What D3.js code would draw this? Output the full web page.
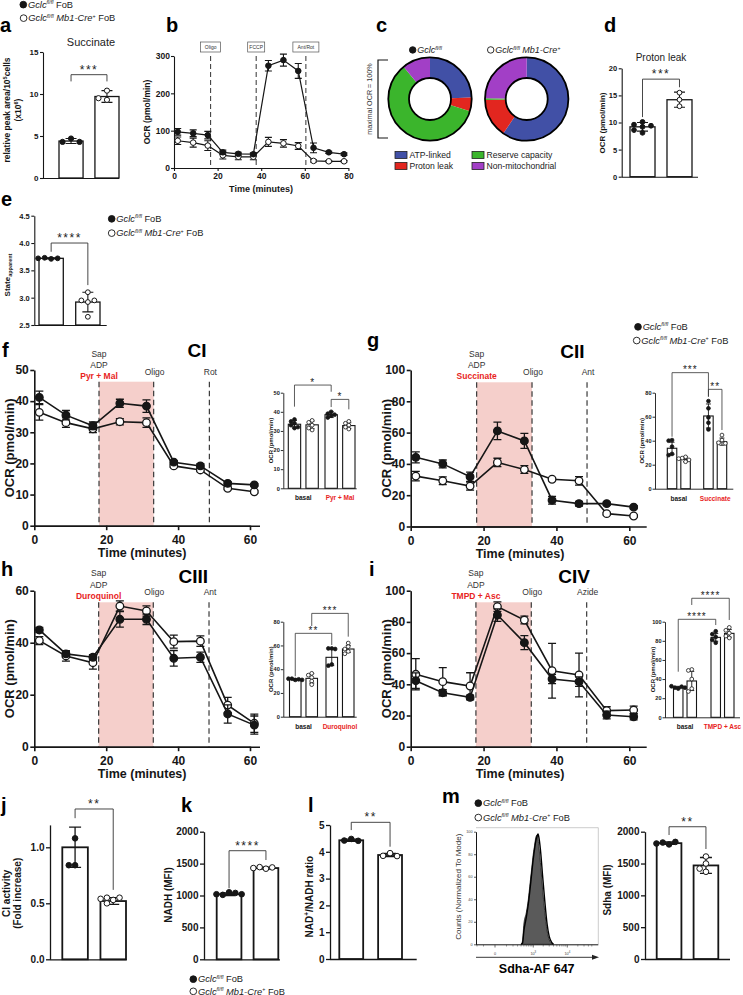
<!DOCTYPE html>
<html><head><meta charset="utf-8">
<script src="https://cdn.jsdelivr.net/npm/d3@7/dist/d3.min.js"></script>
<style>
html,body{margin:0;padding:0;background:#fff;}
svg{display:block;}
text{font-family:"Liberation Sans",Arial,Helvetica,sans-serif;}
</style></head><body>
<svg id="fig" width="743" height="995" viewBox="0 0 743 995"></svg>
<script>
// ======================= DATA =======================
// a – succinate
const aMeans = [4.4, 9.7];
const aSD = [0.3, 0.7];
const aCtrlPts = [4.7, 4.3, 4.3];
const aKoPts = [10.4, 9.3, 9.5];
const aTicks = [0, 5, 10, 15];
// b – mito stress test
const bTime = [1.7, 8.8, 15.5, 22.4, 29.5, 36.4, 43.3, 50.2, 57.0, 64.0, 71.0, 78.0];
const bCtrl = [97, 93, 88, 42, 38, 37, 274, 289, 260, 54, 42, 37];
const bCtrlSD = [9, 9, 10, 6, 4, 4, 14, 16, 20, 13, 3, 3];
const bKo = [73, 68, 60, 34, 30, 30, 70, 66, 59, 19, 18, 18];
const bKoSD = [10, 12, 13, 10, 8, 8, 12, 10, 9, 3, 2, 2];
const bInjTime = [16.8, 37.7, 60.5];
const bInjLabels = ["Oligo", "FCCP", "Ant/Rot"];
const bTicksX = [0, 20, 40, 60, 80];
const bTicksY = [0, 100, 200, 300];
// c – OCR partition (% of maximal OCR)
const cCategories = ["ATP-linked", "Proton leak", "Reserve capacity", "Non-mitochondrial"];
const cColors = ["#4150a6", "#e2261f", "#3bb52c", "#a23fc6"];
const cCtrl = [24.4, 5.3, 59.4, 10.9];
const cKo = [59.5, 15.1, 0.7, 24.7];
// d – proton leak
const dMeans = [9.2, 14.2];
const dSD = [0.8, 1.4];
const dCtrlPts = [10.1, 9.2, 9.6, 8.1, 9.4, 8.6];
const dKoPts = [15.5, 14.2, 13.0];
const dTicks = [0, 5, 10, 15, 20];
// e – State apparent
const eMeans = [3.72, 2.92];
const eSD = [0.01, 0.18];
const eCtrlPts = [3.71, 3.73, 3.72, 3.72];
const eKoPts = [3.10, 2.92, 2.95, 2.95, 2.65];
const eTicks = [2.5, 3.0, 3.5, 4.0, 4.5];
// f–i permeabilised-cell OCR
const ocrTime = [1.4, 8.8, 16.3, 23.8, 31.2, 38.8, 46.2, 53.8, 61.2];
const ocrTicksX = [0, 20, 40, 60];
const insetGroups = ["basal"];
// CI
const fCtrl = [41.2, 35.5, 32.1, 39.3, 38.4, 20.4, 19.2, 13.6, 13.1];
const fCtrlSD = [2.0, 1.5, 1.2, 1.3, 2.0, 0.5, 0.7, 0.5, 0.4];
const fKo = [36.4, 33.1, 31.1, 33.4, 33.1, 19.2, 17.9, 12.0, 10.9];
const fKoSD = [2.5, 1.5, 1.2, 1.0, 1.5, 0.5, 0.5, 0.4, 0.4];
const fInj = [18.0, 33.2, 48.7];
const fTicksY = [0, 10, 20, 30, 40, 50];
const fInsetMeans = [33.5, 33.2, 38.5, 32.8];
const fInsetSD = [2.0, 2.0, 1.5, 1.5];
const fInsetPts = [[36, 35, 34, 33, 31.5, 32], [35.5, 34.5, 33, 31.5, 30.5], [40, 39, 38, 37, 38.5], [35, 34, 33, 31, 32]];
const fInsetTicks = [0, 10, 20, 30, 40, 50];
// CII
const gCtrl = [44.2, 40.0, 31.8, 61.1, 54.7, 16.8, 14.6, 14.6, 12.4];
const gCtrlSD = [3.5, 2.5, 3.0, 5.6, 4.8, 2.5, 1.5, 1.0, 1.0];
const gKo = [32.2, 29.2, 25.8, 40.9, 36.4, 30.2, 29.2, 8.2, 6.7];
const gKoSD = [3.0, 2.5, 2.5, 2.7, 2.5, 1.0, 2.7, 0.8, 0.8];
const gInj = [18.1, 33.3, 48.4];
const gTicksY = [0, 20, 40, 60, 80, 100];
const gInsetMeans = [33.7, 24.5, 60.6, 39.2];
const gInsetSD = [5.0, 2.0, 10.0, 3.0];
const gInsetPts = [[40.5, 40, 35, 29, 28], [26.5, 25.5, 24, 22.5, 25], [73, 67, 59.4, 55, 49.4], [44.7, 40.5, 38.3, 37.8]];
const gInsetTicks = [0, 20, 40, 60, 80];
// CIII
const hCtrl = [44.9, 35.7, 34.4, 49.0, 49.0, 34.0, 34.4, 12.6, 8.3];
const hCtrlSD = [1.0, 1.0, 1.0, 3.0, 2.0, 3.0, 2.0, 3.5, 3.5];
const hKo = [40.8, 34.9, 32.3, 54.1, 52.2, 40.4, 40.6, 16.0, 9.0];
const hKoSD = [1.5, 2.0, 2.5, 2.0, 2.0, 2.5, 2.0, 3.0, 3.5];
const hInj = [17.9, 33.1, 48.6];
const hTicksY = [0, 20, 40, 60];
const hInsetMeans = [31.4, 32.3, 50.0, 57.0];
const hInsetSD = [0.7, 4.0, 7.0, 3.0];
const hInsetPts = [[31, 32, 31.5, 32, 31], [36.5, 35, 33, 30, 27], [57.5, 57.5, 57, 44, 43], [62, 59, 57, 55, 53]];
const hInsetTicks = [0, 20, 40, 60, 80];
// CIV
const iCtrl = [42.3, 34.6, 31.6, 84.4, 66.7, 43.4, 41.7, 20.3, 19.2];
const iCtrlSD = [5.0, 2.0, 1.5, 4.0, 4.5, 3.0, 3.0, 2.5, 2.0];
const iKo = [46.4, 41.7, 38.9, 89.8, 81.2, 48.7, 46.0, 23.1, 23.5];
const iKoSD = [10.0, 9.0, 8.5, 3.0, 2.5, 17.5, 14.0, 2.5, 2.5];
const iInj = [17.9, 33.1, 48.3];
const iTicksY = [0, 20, 40, 60, 80, 100];
const iInsetMeans = [31.4, 38.0, 83.6, 87.8];
const iInsetSD = [1.0, 10.0, 4.0, 4.0];
const iInsetPts = [[30, 31, 32, 32.5, 31], [50, 49, 40, 30, 27], [90, 87, 84, 81, 78], [94, 91, 88, 85, 83]];
const iInsetTicks = [0, 20, 40, 60, 80, 100];
// j – CI activity
const jMeans = [1.0, 0.52];
const jSD = [0.18, 0.03];
const jCtrlPts = [1.08, 0.84, 0.84];
const jKoPts = [0.53, 0.55, 0.55, 0.54, 0.50];
const jTicks = [0.0, 0.5, 1.0];
// k – NADH
const kMeans = [1020, 1430];
const kSD = [20, 15];
const kCtrlPts = [1050, 1010, 1040, 1020, 1020];
const kKoPts = [1420, 1445, 1440, 1430];
const kTicks = [0, 500, 1000, 1500, 2000];
// l – NAD+/NADH
const lMeans = [4.43, 3.88];
const lSD = [0.04, 0.06];
const lCtrlPts = [4.48, 4.42, 4.41];
const lKoPts = [3.95, 3.85, 3.84];
const lTicks = [0, 1, 2, 3, 4, 5];
// m – Sdha
const mHistBins = [400, 450, 500, 600, 700, 800, 900, 1000, 1100, 1200, 1300, 1400, 1500, 1700, 1900, 2200, 2600, 3000, 3500, 4000];
const mHistCtrl = [0, 3, 18, 28, 40, 55, 68, 80, 88, 95, 97, 93, 85, 68, 50, 30, 12, 4, 1, 0];
const mHistKo = [0, 1, 12, 24, 36, 50, 64, 76, 85, 92, 96, 98, 94, 80, 62, 40, 18, 7, 2, 0];
const mHistTicksY = [0, 20, 40, 60, 80, 100];
const mMeans = [1820, 1470];
const mSD = [20, 125];
const mCtrlPts = [1800, 1830, 1840, 1815];
const mKoPts = [1610, 1500, 1370, 1420];
const mTicks = [0, 500, 1000, 1500, 2000];

// ======================= DRAWING =======================
const svg = d3.select("#fig");
const INK = "#161616";
const FONT = '"Liberation Sans", Arial, Helvetica, sans-serif';
const PINK = "#f5cfcb";
const RED = "#e8241d";

function txt(g, x, y, s, o = {}) {
  const el = g.append("text").attr("x", x).attr("y", y).text(s)
    .attr("font-size", o.size || 10)
    .attr("font-weight", o.bold ? "bold" : "normal")
    .attr("text-anchor", o.anchor || "start")
    .attr("fill", o.fill || INK);
  if (o.italic) el.attr("font-style", "italic");
  if (o.rot) el.attr("transform", `rotate(-90,${x},${y})`);
  if (o.ls) el.attr("letter-spacing", o.ls);
  return el;
}
function letter(x, y, s) { txt(svg, x, y, s, {size: 20, bold: true, fill: "#000"}); }

function geno(g, x, y, ko, o = {}) {
  const s = o.size || 9.3;
  if (o.circle !== false) {
    g.append("circle").attr("cx", x).attr("cy", y - s * 0.34).attr("r", s * 0.36)
      .attr("fill", ko ? "#fff" : INK).attr("stroke", INK).attr("stroke-width", 0.9);
  }
  const t = g.append("text").attr("x", x + s * 0.5).attr("y", y).attr("font-size", s).attr("fill", "#222");
  t.append("tspan").attr("font-style", "italic").text("Gclc");
  t.append("tspan").attr("font-style", "italic").attr("font-size", s * 0.58).attr("dy", -s * 0.38).text("fl/fl");
  if (ko) {
    t.append("tspan").attr("font-style", "italic").attr("dy", s * 0.38).text(" Mb1-Cre");
    t.append("tspan").attr("font-size", s * 0.58).attr("dy", -s * 0.38).text("+");
    if (o.fob !== false) t.append("tspan").attr("dy", s * 0.38).text(" FoB");
  } else if (o.fob !== false) {
    t.append("tspan").attr("dy", s * 0.38).text(" FoB");
  }
}

function leftAxis(g, x, y, ticks, fmt, o) {
  const a = g.append("g").attr("transform", `translate(${x},0)`)
    .call(d3.axisLeft(y).tickValues(ticks).tickFormat(fmt).tickSize(o.tl).tickSizeOuter(0).tickPadding(o.pad ?? 1.5));
  a.attr("font-family", FONT).attr("font-size", o.fs);
  a.select(".domain").attr("stroke", INK).attr("stroke-width", o.sw);
  a.selectAll(".tick line").attr("stroke", INK).attr("stroke-width", o.sw);
  a.selectAll(".tick text").attr("fill", o.fill || INK).attr("font-weight", o.bold === false ? "normal" : "bold").attr("font-size", o.fs);
  return a;
}
function bottomAxis(g, yPos, x, ticks, fmt, o) {
  const a = g.append("g").attr("transform", `translate(0,${yPos})`)
    .call(d3.axisBottom(x).tickValues(ticks).tickFormat(fmt).tickSize(o.tl).tickSizeOuter(0).tickPadding(o.pad ?? 2));
  a.attr("font-family", FONT).attr("font-size", o.fs);
  a.select(".domain").attr("stroke", INK).attr("stroke-width", o.sw);
  a.selectAll(".tick line").attr("stroke", INK).attr("stroke-width", o.sw);
  a.selectAll(".tick text").attr("fill", INK).attr("font-weight", "bold").attr("font-size", o.fs);
  return a;
}

function dodge(vals, y, r, step) {
  const placed = [];
  const cands = [0];
  for (let i = 1; i < 8; i++) cands.push(-i * step, i * step);
  return vals.map(v => {
    const py = y(v);
    let off = 0;
    for (const c of cands) {
      if (placed.every(p => Math.abs(p.x - c) >= step * 0.9 || Math.abs(p.y - py) >= 2 * r * 0.9)) { off = c; break; }
    }
    placed.push({x: off, y: py});
    return off;
  });
}

function errBar(g, cx, y, m, e, cw, sw) {
  g.append("path")
    .attr("d", `M${cx},${y(m - e)}V${y(m + e)}M${cx - cw},${y(m + e)}H${cx + cw}M${cx - cw},${y(m - e)}H${cx + cw}`)
    .attr("stroke", INK).attr("stroke-width", sw).attr("fill", "none");
}

function bracket(g, xl, xr, y, b) {
  g.append("path").attr("d", `M${xl},${y(b.l)}V${y(b.top)}H${xr}V${y(b.r)}`)
    .attr("fill", "none").attr("stroke", "#333").attr("stroke-width", b.sw || 0.9);
  txt(g, (xl + xr) / 2, y(b.top) + (b.dy ?? -1), b.label, {size: b.fs || 12, anchor: "middle", ls: b.ls ?? 1.5, fill: "#222"});
}

function barChart(c) {
  const g = svg.append("g");
  const y = d3.scaleLinear().domain(c.domain).range([c.y0, c.y1]);
  const x = d3.scaleBand().domain(d3.range(c.means.length)).range(c.band).paddingInner(c.pad);
  const base = y(c.domain[0]);
  leftAxis(g, c.ax, y, c.ticks, c.fmt, {tl: c.tl, fs: c.fs, sw: c.sw, pad: c.tpad});
  g.append("line").attr("x1", c.ax).attr("x2", c.axR).attr("y1", base + 0.5).attr("y2", base + 0.5)
    .attr("stroke", INK).attr("stroke-width", c.sw);
  c.means.forEach((m, i) => {
    const cx = x(i) + x.bandwidth() / 2;
    g.append("rect").attr("x", x(i)).attr("y", y(m)).attr("width", x.bandwidth()).attr("height", base - y(m))
      .attr("fill", "#fff").attr("stroke", INK).attr("stroke-width", c.bsw);
    errBar(g, cx, y, m, c.sds[i], c.cw, c.esw);
    const pts = c.pts[i];
    const offs = dodge(pts, y, c.r, c.step);
    pts.forEach((v, k) => g.append("circle").attr("cx", cx + offs[k]).attr("cy", y(v)).attr("r", c.r)
      .attr("fill", i === 0 ? INK : "#fff").attr("stroke", INK).attr("stroke-width", c.psw || 1));
  });
  if (c.br) bracket(g, x(0) + x.bandwidth() / 2, x(1) + x.bandwidth() / 2, y, c.br);
  return {g, x, y};
}

function series(g, x, y, ts, vals, sds, filled, o) {
  const line = d3.line().x((d, i) => x(ts[i])).y(d => y(d));
  g.append("path").datum(vals).attr("d", line).attr("fill", "none").attr("stroke", INK).attr("stroke-width", o.lw);
  vals.forEach((v, i) => errBar(g, x(ts[i]), y, v, sds[i], o.cw, o.ew));
  vals.forEach((v, i) => g.append("circle").attr("cx", x(ts[i])).attr("cy", y(v)).attr("r", o.r)
    .attr("fill", filled ? INK : "#fff").attr("stroke", INK).attr("stroke-width", o.psw));
}

function ocrChart(c) {
  const g = svg.append("g");
  const x = d3.scaleLinear().domain([0, 60]).range([c.ax, c.x60]);
  const y = d3.scaleLinear().domain(c.yDomain).range([c.y0, c.y1]);
  const top = c.y1 + c.shadeOff;
  g.append("rect").attr("x", x(c.inj[0])).attr("y", top).attr("width", x(c.inj[1]) - x(c.inj[0]))
    .attr("height", c.y0 - top).attr("fill", PINK);
  c.inj.forEach(tm => g.append("line").attr("x1", x(tm)).attr("x2", x(tm)).attr("y1", top).attr("y2", c.y0)
    .attr("stroke", "#3a3a3a").attr("stroke-width", 1.2).attr("stroke-dasharray", "5.5,3.5"));
  leftAxis(g, c.ax, y, c.yTicks, d3.format("d"), {tl: 4, fs: 12, sw: 1.6, pad: 1.5});
  g.append("line").attr("x1", c.ax).attr("x2", c.axR).attr("y1", c.y0 + 0.5).attr("y2", c.y0 + 0.5)
    .attr("stroke", INK).attr("stroke-width", 1.6);
  bottomAxis(g, c.y0, x, ocrTicksX, d3.format("d"), {tl: 4.5, fs: 12, sw: 1.6, pad: 5});
  series(g, x, y, ocrTime, c.ko, c.koSD, false, {r: 3.8, lw: 1.6, cw: 4, ew: 1.3, psw: 1.3});
  series(g, x, y, ocrTime, c.ctrl, c.ctrlSD, true, {r: 3.8, lw: 1.6, cw: 4, ew: 1.3, psw: 1.3});
  const lx = x(c.inj[0]);
  txt(g, lx, c.y1 + c.sapDy, "Sap", {size: 8.5, anchor: "middle", fill: "#333"});
  txt(g, lx, c.y1 - 2.5, "ADP", {size: 8.5, anchor: "middle", fill: "#333"});
  txt(g, lx, c.y1 + 8.5, c.stim, {size: 8.5, anchor: "middle", fill: RED, bold: true});
  txt(g, x(c.inj[1]) + 1, c.y1 + 4.5, "Oligo", {size: 8.5, anchor: "middle", fill: "#333"});
  txt(g, x(c.inj[2]) + 1, c.y1 + 4.5, c.last, {size: 8.5, anchor: "middle", fill: "#333"});
  txt(g, c.titleX, c.titleY, c.title, {size: 19, bold: true, anchor: "middle", fill: "#000"});
  txt(g, (c.ax + c.x60) / 2, c.y0 + 31, "Time (minutes)", {size: 12.5, bold: true, anchor: "middle"});
  txt(g, c.ax - 20, (c.y0 + c.y1) / 2, "OCR (pmol/min)", {size: 13, bold: true, anchor: "middle", rot: true});
}

function insetChart(c) {
  const g = svg.append("g");
  const y = d3.scaleLinear().domain(c.domain).range([c.y0, c.y1]);
  const gx = d3.scalePoint().domain(insetGroups.concat([c.stim])).range(c.centers);
  const ix = d3.scaleBand().domain([0, 1]).range([-c.half, c.half]).paddingInner(0.3);
  leftAxis(g, c.ax, y, c.ticks, d3.format("d"), {tl: 2.5, fs: 5.6, sw: 0.9, pad: 1});
  g.append("line").attr("x1", c.ax).attr("x2", c.axR).attr("y1", c.y0 + 0.5).attr("y2", c.y0 + 0.5)
    .attr("stroke", INK).attr("stroke-width", 0.9);
  const slots = [[insetGroups[0], 0], [insetGroups[0], 1], [c.stim, 0], [c.stim, 1]];
  const centers = slots.map(([grp, gi]) => gx(grp) + ix(gi) + ix.bandwidth() / 2);
  slots.forEach(([grp, gi], i) => {
    const x0 = gx(grp) + ix(gi);
    const m = c.means[i];
    g.append("rect").attr("x", x0).attr("y", y(m)).attr("width", ix.bandwidth()).attr("height", c.y0 - y(m))
      .attr("fill", "#fff").attr("stroke", INK).attr("stroke-width", 1.1);
    errBar(g, centers[i], y, m, c.sds[i], 2.5, 0.9);
    const offs = dodge(c.pts[i], y, 1.9, 3.4);
    c.pts[i].forEach((v, k) => g.append("circle").attr("cx", centers[i] + offs[k]).attr("cy", y(v)).attr("r", 1.9)
      .attr("fill", gi === 0 ? INK : "#fff").attr("stroke", INK).attr("stroke-width", 0.8));
  });
  c.brackets.forEach(b => bracket(g, centers[b.a], centers[b.b], y, Object.assign({fs: 10, ls: 1, dy: 0.5, sw: 0.8}, b)));
  txt(g, gx(insetGroups[0]), c.y0 + 12, "basal", {size: 6.5, bold: true, anchor: "middle"});
  txt(g, gx(c.stim), c.y0 + 12, c.stim, {size: 6.5, bold: true, anchor: "middle", fill: RED});
  txt(g, c.ax - 10.5, (c.y0 + c.y1) / 2, "OCR (pmol/min)", {size: 6, bold: true, anchor: "middle", rot: true});
}

// ---------------- legends & letters ----------------
letter(0, 32, "a"); letter(166, 32, "b"); letter(376, 32, "c"); letter(604, 32, "d");
letter(1, 205.5, "e"); letter(2, 357, "f"); letter(367, 347, "g");
letter(1, 576, "h"); letter(369, 576, "i");
letter(1, 812, "j"); letter(181, 812, "k"); letter(308, 812, "l"); letter(442, 803, "m");

geno(svg, 23.3, 7.8, false); geno(svg, 23.6, 21.3, true);

// ---------------- a ----------------
{
  barChart({ax: 43, axR: 119, y0: 178, y1: 52, domain: [0, 15], ticks: aTicks, fmt: d3.format("d"),
    band: [59, 119], pad: 0.33, means: aMeans, sds: aSD, pts: [aCtrlPts, aKoPts],
    tl: 3, fs: 8, sw: 1.1, bsw: 1.3, cw: 5.5, esw: 1.1, r: 2.6, step: 8.5,
    br: {top: 12.3, l: 11.5, r: 11.5, label: "***"}});
  txt(svg, 91, 45.5, "Succinate", {size: 11, anchor: "middle", fill: "#222"});
  const t = svg.append("text").attr("x", 10).attr("y", 110).attr("font-size", 8.5).attr("font-weight", "bold")
    .attr("text-anchor", "middle").attr("fill", INK).attr("transform", "rotate(-90,10,110)");
  t.append("tspan").text("relative peak area/10");
  t.append("tspan").attr("font-size", 5.5).attr("dy", -3.5).text("5");
  t.append("tspan").attr("dy", 3.5).text("cells");
  const t2 = svg.append("text").attr("x", 21).attr("y", 110).attr("font-size", 8.5).attr("font-weight", "bold")
    .attr("text-anchor", "middle").attr("fill", INK).attr("transform", "rotate(-90,21,110)");
  t2.append("tspan").text("(x10");
  t2.append("tspan").attr("font-size", 5.5).attr("dy", -3.5).text("6");
  t2.append("tspan").attr("dy", 3.5).text(")");
}

// ---------------- b ----------------
{
  const g = svg.append("g");
  const x = d3.scaleLinear().domain([0, 80]).range([174, 348.4]);
  const y = d3.scaleLinear().domain([0, 300]).range([168, 56]);
  bInjTime.forEach((tm, i) => {
    g.append("line").attr("x1", x(tm)).attr("x2", x(tm)).attr("y1", 56).attr("y2", 168)
      .attr("stroke", "#333").attr("stroke-width", 1).attr("stroke-dasharray", "5,3");
    const w = bInjLabels[i].length * 3 + 5;
    g.append("rect").attr("x", x(tm) - w / 2).attr("y", 42).attr("width", w).attr("height", 10)
      .attr("fill", "#fff").attr("stroke", "#555").attr("stroke-width", 0.7);
    txt(g, x(tm), 48.8, bInjLabels[i], {size: 5, anchor: "middle", fill: "#333"});
  });
  leftAxis(g, 174, y, bTicksY, d3.format("d"), {tl: 3, fs: 8.5, sw: 1.1, pad: 1});
  bottomAxis(g, 168, x, bTicksX, d3.format("d"), {tl: 3, fs: 8.5, sw: 1.1, pad: 2});
  series(g, x, y, bTime, bKo, bKoSD, false, {r: 2.8, lw: 1.2, cw: 3.5, ew: 1.1, psw: 1});
  series(g, x, y, bTime, bCtrl, bCtrlSD, true, {r: 2.8, lw: 1.2, cw: 3.5, ew: 1.1, psw: 1});
  txt(g, 261, 192, "Time (minutes)", {size: 9, bold: true, anchor: "middle"});
  txt(g, 150, 112, "OCR (pmol/min)", {size: 8.5, bold: true, anchor: "middle", rot: true});
}

// ---------------- c ----------------
{
  const g = svg.append("g");
  const arc = d3.arc().innerRadius(21).outerRadius(41.7);
  const pie = d3.pie().sort(null).value(d => d);
  [[cCtrl, 430], [cKo, 526.7]].forEach(([vals, cx]) => {
    const dg = g.append("g").attr("transform", `translate(${cx},99)`);
    dg.selectAll("path").data(pie(vals)).enter().append("path").attr("d", arc).attr("fill", (d, i) => cColors[i]);
    dg.append("circle").attr("r", 41.7).attr("fill", "none").attr("stroke", "#000").attr("stroke-width", 1.8);
    dg.append("circle").attr("r", 21).attr("fill", "none").attr("stroke", "#000").attr("stroke-width", 1.8);
  });
  geno(g, 412.7, 53, false, {fob: false, size: 9});
  geno(g, 490.7, 53, true, {fob: false, size: 9});
  g.append("path").attr("d", "M388,60H378V138H388").attr("fill", "none").attr("stroke", INK).attr("stroke-width", 1.2);
  txt(g, 371.5, 99, "maximal OCR = 100%", {size: 7.2, anchor: "middle", rot: true, fill: "#333"});
  cCategories.forEach((cat, i) => {
    const col = (i === 0 || i === 1) ? 0 : 1;
    const row = (i === 0 || i === 2) ? 0 : 1;
    const lx = col === 0 ? 395 : 472, ly = row === 0 ? 155 : 166;
    g.append("rect").attr("x", lx).attr("y", ly - 3.6).attr("width", 12).attr("height", 7.2)
      .attr("fill", cColors[i]).attr("stroke", "#222").attr("stroke-width", 0.8);
    txt(g, lx + 14.5, ly + 3.1, cat, {size: 8.6, fill: "#222"});
  });
}

// ---------------- d ----------------
{
  barChart({ax: 621.7, axR: 698, y0: 176.7, y1: 68.3, domain: [0, 20], ticks: dTicks, fmt: d3.format("d"),
    band: [630, 692], pad: 0.324, means: dMeans, sds: dSD, pts: [dCtrlPts, dKoPts],
    tl: 3, fs: 7.5, sw: 1.1, bsw: 1.3, cw: 5.5, esw: 1.1, r: 2.4, step: 8.5,
    br: {top: 18, l: 11, r: 16.5, label: "***"}});
  txt(svg, 661, 60.5, "Proton leak", {size: 10, anchor: "middle", fill: "#222"});
  txt(svg, 604.5, 123, "OCR (pmol/min)", {size: 8, bold: true, anchor: "middle", rot: true});
}

// ---------------- e ----------------
{
  barChart({ax: 34.3, axR: 106.7, y0: 325, y1: 215.7, domain: [2.5, 4.5], ticks: eTicks, fmt: d3.format(".1f"),
    band: [39, 100], pad: 0.338, means: eMeans, sds: eSD, pts: [eCtrlPts, eKoPts],
    tl: 3, fs: 7.5, sw: 1.1, bsw: 1.3, cw: 5.5, esw: 1.1, r: 2.4, step: 6.5,
    br: {top: 4.0, l: 3.84, r: 3.23, label: "****"}});
  const t = svg.append("text").attr("x", 9.5).attr("y", 275).attr("font-size", 8).attr("font-weight", "bold")
    .attr("text-anchor", "middle").attr("fill", INK).attr("transform", "rotate(-90,9.5,275)");
  t.append("tspan").text("State");
  t.append("tspan").attr("font-size", 5.5).attr("dy", 2).text("apparent");
  geno(svg, 111.7, 222, false);
  geno(svg, 111.7, 236.3, true);
}

// ---------------- f–i ----------------
ocrChart({ax: 34.3, x60: 250, axR: 260, y0: 525.7, y1: 370, yDomain: [0, 50], yTicks: fTicksY, inj: fInj, shadeOff: 11.7,
  ctrl: fCtrl, ctrlSD: fCtrlSD, ko: fKo, koSD: fKoSD, stim: "Pyr + Mal", last: "Rot", sapDy: -13,
  title: "CI", titleX: 197, titleY: 356.7});
insetChart({ax: 283.3, axR: 356.7, y0: 488.3, y1: 392.7, domain: [0, 50], ticks: fInsetTicks, centers: [303.3, 340], half: 15,
  stim: "Pyr + Mal", means: fInsetMeans, sds: fInsetSD, pts: fInsetPts,
  brackets: [{a: 0, b: 2, top: 54, l: 42.7, r: 50.5, label: "*"}, {a: 2, b: 3, top: 46.5, l: 42.5, r: 41.3, label: "*"}]});

ocrChart({ax: 410.7, x60: 629.3, axR: 646.7, y0: 526.5, y1: 370, yDomain: [0, 100], yTicks: gTicksY, inj: gInj, shadeOff: 12.3,
  ctrl: gCtrl, ctrlSD: gCtrlSD, ko: gKo, koSD: gKoSD, stim: "Succinate", last: "Ant", sapDy: -13,
  title: "CII", titleX: 572.3, titleY: 358.3});
insetChart({ax: 655, axR: 733.3, y0: 488.7, y1: 392.7, domain: [0, 80], ticks: gInsetTicks, centers: [678.8, 715.2], half: 11.5,
  stim: "Succinate", means: gInsetMeans, sds: gInsetSD, pts: gInsetPts,
  brackets: [{a: 0, b: 2, top: 96.7, l: 43.3, r: 76.7, label: "***"}, {a: 2, b: 3, top: 82.8, l: 76.7, r: 48.9, label: "**"}]});
geno(svg, 638, 330, false);
geno(svg, 636.7, 343.7, true);

ocrChart({ax: 34.3, x60: 250, axR: 260, y0: 746.7, y1: 590.7, yDomain: [0, 60], yTicks: hTicksY, inj: hInj, shadeOff: 11.6,
  ctrl: hCtrl, ctrlSD: hCtrlSD, ko: hKo, koSD: hKoSD, stim: "Duroquinol", last: "Ant", sapDy: -15,
  title: "CIII", titleX: 193.3, titleY: 583.3});
insetChart({ax: 283.3, axR: 356.7, y0: 716.7, y1: 621.7, domain: [0, 80], ticks: hInsetTicks, centers: [303.5, 340], half: 14,
  stim: "Duroquinol", means: hInsetMeans, sds: hInsetSD, pts: hInsetPts,
  brackets: [{a: 0, b: 2, top: 70.2, l: 34, r: 60.4, label: "**"}, {a: 1, b: 3, top: 87, l: 76.4, r: 67.4, label: "***"}]});

ocrChart({ax: 410.7, x60: 629.3, axR: 646.7, y0: 746.7, y1: 590.7, yDomain: [0, 100], yTicks: iTicksY, inj: iInj, shadeOff: 11.6,
  ctrl: iCtrl, ctrlSD: iCtrlSD, ko: iKo, koSD: iKoSD, stim: "TMPD + Asc", last: "Azide", sapDy: -15,
  title: "CIV", titleX: 574, titleY: 583.3});
insetChart({ax: 665, axR: 740, y0: 717.3, y1: 621.7, domain: [0, 100], ticks: iInsetTicks, centers: [685, 722.5], half: 11.5,
  stim: "TMPD + Asc", means: iInsetMeans, sds: iInsetSD, pts: iInsetPts,
  brackets: [{a: 0, b: 2, top: 102.5, l: 47.7, r: 96.5, label: "****"}, {a: 1, b: 3, top: 124.5, l: 117.5, r: 101.8, label: "****"}]});

// ---------------- j ----------------
{
  barChart({ax: 50, axR: 126.7, y0: 959.3, y1: 824.9, domain: [0, 1.2], ticks: jTicks, fmt: d3.format(".1f"),
    band: [62.3, 126], pad: 0.33, means: jMeans, sds: jSD, pts: [jCtrlPts, jKoPts],
    tl: 4, fs: 10, sw: 1.3, bsw: 1.8, cw: 6, esw: 1.3, r: 2.8, step: 6.3,
    br: {top: 1.342, l: 1.26, r: 0.62, label: "**"}});
  txt(svg, 10, 893.3, "CI activity", {size: 10, bold: true, anchor: "middle", rot: true});
  txt(svg, 21.5, 893.3, "(Fold increase)", {size: 10, bold: true, anchor: "middle", rot: true});
}
// ---------------- k ----------------
{
  barChart({ax: 204, axR: 280, y0: 959.3, y1: 831.7, domain: [0, 2000], ticks: kTicks, fmt: d3.format("d"),
    band: [216.7, 278.3], pad: 0.33, means: kMeans, sds: kSD, pts: [kCtrlPts, kKoPts],
    tl: 4, fs: 10, sw: 1.3, bsw: 1.8, cw: 6, esw: 1.3, r: 2.8, step: 6.3,
    br: {top: 1702, l: 1113, r: 1556, label: "****"}});
  txt(svg, 171.5, 895, "NADH (MFI)", {size: 10, bold: true, anchor: "middle", rot: true});
  geno(svg, 193.3, 982.3, false);
  geno(svg, 193.3, 994.5, true);
}
// ---------------- l ----------------
{
  barChart({ax: 330, axR: 416.7, y0: 959, y1: 825, domain: [0, 5], ticks: lTicks, fmt: d3.format("d"),
    band: [339.3, 402], pad: 0.385, means: lMeans, sds: lSD, pts: [lCtrlPts, lKoPts],
    tl: 4, fs: 10, sw: 1.3, bsw: 1.8, cw: 6, esw: 1.3, r: 2.8, step: 7,
    br: {top: 5.1, l: 4.81, r: 4.19, label: "**"}});
  const t = svg.append("text").attr("x", 313.5).attr("y", 896.7).attr("font-size", 10).attr("font-weight", "bold")
    .attr("text-anchor", "middle").attr("fill", INK).attr("transform", "rotate(-90,313.5,896.7)");
  t.append("tspan").text("NAD");
  t.append("tspan").attr("font-size", 6.5).attr("dy", -4).text("+");
  t.append("tspan").attr("dy", 4).text("/NADH ratio");
}
// ---------------- m ----------------
{
  const g = svg.append("g");
  geno(g, 478.3, 806.3, false);
  geno(g, 478.3, 820.7, true);
  const hx = d3.scaleSymlog().constant(89).domain([0, 10000]).range([495, 567.3]);
  const hy = d3.scaleLinear().domain([0, 100]).range([944.3, 831.7]);
  const ctrlData = mHistBins.map((b, i) => [b, mHistCtrl[i]]);
  const koData = mHistBins.map((b, i) => [b, mHistKo[i]]);
  g.append("path").attr("d", "M476,827.7H598.3V944.3").attr("fill", "none").attr("stroke", "#aaa").attr("stroke-width", 0.6);
  g.append("path").datum(ctrlData)
    .attr("d", d3.area().x(d => hx(d[0])).y0(hy(0)).y1(d => hy(d[1])).curve(d3.curveMonotoneX))
    .attr("fill", "#5a5a5a").attr("stroke", "#222").attr("stroke-width", 0.8);
  g.append("path").datum(koData)
    .attr("d", d3.line().x(d => hx(d[0])).y(d => hy(d[1])).curve(d3.curveMonotoneX))
    .attr("fill", "none").attr("stroke", "#000").attr("stroke-width", 1.4);
  const ya = g.append("g").attr("transform", "translate(476,0)")
    .call(d3.axisLeft(hy).tickValues(mHistTicksY).tickSize(2).tickSizeOuter(0).tickPadding(1.5));
  ya.attr("font-family", FONT);
  ya.select(".domain").attr("stroke", INK).attr("stroke-width", 1);
  ya.selectAll(".tick line").attr("stroke", INK).attr("stroke-width", 0.7);
  ya.selectAll(".tick text").attr("font-size", 3.8).attr("fill", "#444");
  g.append("line").attr("x1", 476).attr("x2", 598.3).attr("y1", 944.8).attr("y2", 944.8).attr("stroke", INK).attr("stroke-width", 1);
  const minor = [-200, -100, 100, 200, 300, 400, 500, 600, 700, 800, 900, 2000, 3000, 4000, 5000, 6000, 7000, 8000, 9000, 20000, 30000, 40000, 50000];
  minor.forEach(v => g.append("line").attr("x1", hx(v)).attr("x2", hx(v)).attr("y1", 944.8).attr("y2", 946.5).attr("stroke", "#333").attr("stroke-width", 0.5));
  [0, 1000, 10000].forEach(v => g.append("line").attr("x1", hx(v)).attr("x2", hx(v)).attr("y1", 944.8).attr("y2", 947.5).attr("stroke", "#333").attr("stroke-width", 0.7));
  [[0, "0", ""], [1000, "10", "3"], [10000, "10", "4"]].forEach(([v, a, s]) => {
    const t = g.append("text").attr("x", hx(v)).attr("y", 954.5).attr("font-size", 3.8).attr("fill", "#444").attr("text-anchor", "middle");
    t.append("tspan").text(a);
    if (s) t.append("tspan").attr("font-size", 2.8).attr("dy", -1.5).text(s);
  });
  g.append("line").attr("x1", 476).attr("x2", 593).attr("y1", 957.3).attr("y2", 957.3).attr("stroke", "#222").attr("stroke-width", 0.9);
  g.append("path").attr("d", "M599,957.3L592,954.8V959.8Z").attr("fill", "#222");
  txt(g, 536.7, 972.5, "Sdha-AF 647", {size: 12.5, bold: true, anchor: "middle", fill: "#000"});
  txt(g, 461, 886.7, "Counts (Normalized To Mode)", {size: 8, anchor: "middle", rot: true, fill: "#333"});

  barChart({ax: 645, axR: 730, y0: 959, y1: 831.7, domain: [0, 2000], ticks: mTicks, fmt: d3.format("d"),
    band: [656.7, 718.3], pad: 0.33, means: mMeans, sds: mSD, pts: [mCtrlPts, mKoPts],
    tl: 4, fs: 10, sw: 1.3, bsw: 1.8, cw: 6, esw: 1.3, r: 2.8, step: 6.3,
    br: {top: 2078, l: 1948, r: 1728, label: "**"}});
  txt(svg, 610.5, 890, "Sdha (MFI)", {size: 10, bold: true, anchor: "middle", rot: true});
}
</script>
</body></html>
